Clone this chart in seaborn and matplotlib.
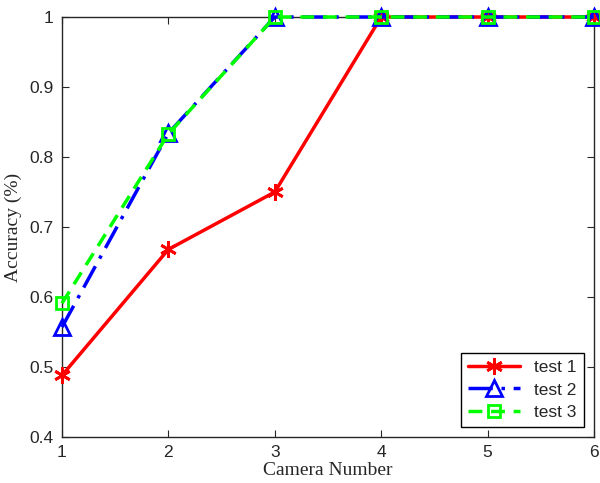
import matplotlib
matplotlib.use("Agg")
import matplotlib.pyplot as plt
import seaborn as sns
import pandas as pd

# data
cameras = [1, 2, 3, 4, 5, 6]
test1 = [0.488, 0.668, 0.75, 1.0, 1.0, 1.0]
test2 = [0.557, 0.834, 1.0, 1.0, 1.0, 1.0]
test3 = [0.591, 0.833, 1.0, 1.0, 1.0, 1.0]
names = ["test 1", "test 2", "test 3"]

sns.set_style("ticks")
plt.rcParams['font.family'] = ['Liberation Sans', 'DejaVu Sans']
plt.rcParams['xtick.direction'] = 'in'
plt.rcParams['ytick.direction'] = 'in'

fig = plt.figure(figsize=(6, 4.83), dpi=100)
ax = fig.add_axes([0.1033, 0.0952, 0.8867, 0.8696])

styles = [
    dict(color='red', linestyle='-', marker=(6, 2, 0), markersize=12,
         mec='red', mew=2),
    dict(color='blue', linestyle=(0, (7, 2.5, 1, 2.5)), marker='^', markersize=12,
         mfc='none', mec='blue', mew=2),
    dict(color='#00ff00', linestyle=(0, (4, 2.5)), marker='s', markersize=9,
         mfc='none', mec='#00ff00', mew=2),
]
for name, vals, st in zip(names, [test1, test2, test3], styles):
    df = pd.DataFrame({'x': cameras, 'y': vals})
    sns.lineplot(data=df, x='x', y='y', ax=ax, legend=False, linewidth=2.5,
                 clip_on=False, zorder=3, **st)

ax.set_xlim(1, 6)
ax.set_ylim(0.4, 1.0)
ax.set_xticks(cameras)
ax.set_yticks([0.4, 0.5, 0.6, 0.7, 0.8, 0.9, 1.0])
ax.set_yticklabels(['0.4', '0.5', '0.6', '0.7', '0.8', '0.9', '1'])
ax.tick_params(labelsize=12.5, length=5, width=0.8, top=True, right=True, pad=6)
for s in ax.spines.values():
    s.set_visible(True)
    s.set_linewidth(1)
ax.set_xlabel('Camera Number', family='Liberation Serif', fontsize=14, labelpad=1)
ax.set_ylabel('Accuracy (%)', family='Liberation Serif', fontsize=14, labelpad=5)

leg = ax.legend(handles=ax.lines[:3], labels=names, loc='lower right', fontsize=12.5,
                fancybox=False, framealpha=1, edgecolor='black',
                borderaxespad=0.6, handlelength=3.0, labelspacing=0.4)
leg.get_frame().set_linewidth(1)

fig.savefig('out.png', dpi=100)
